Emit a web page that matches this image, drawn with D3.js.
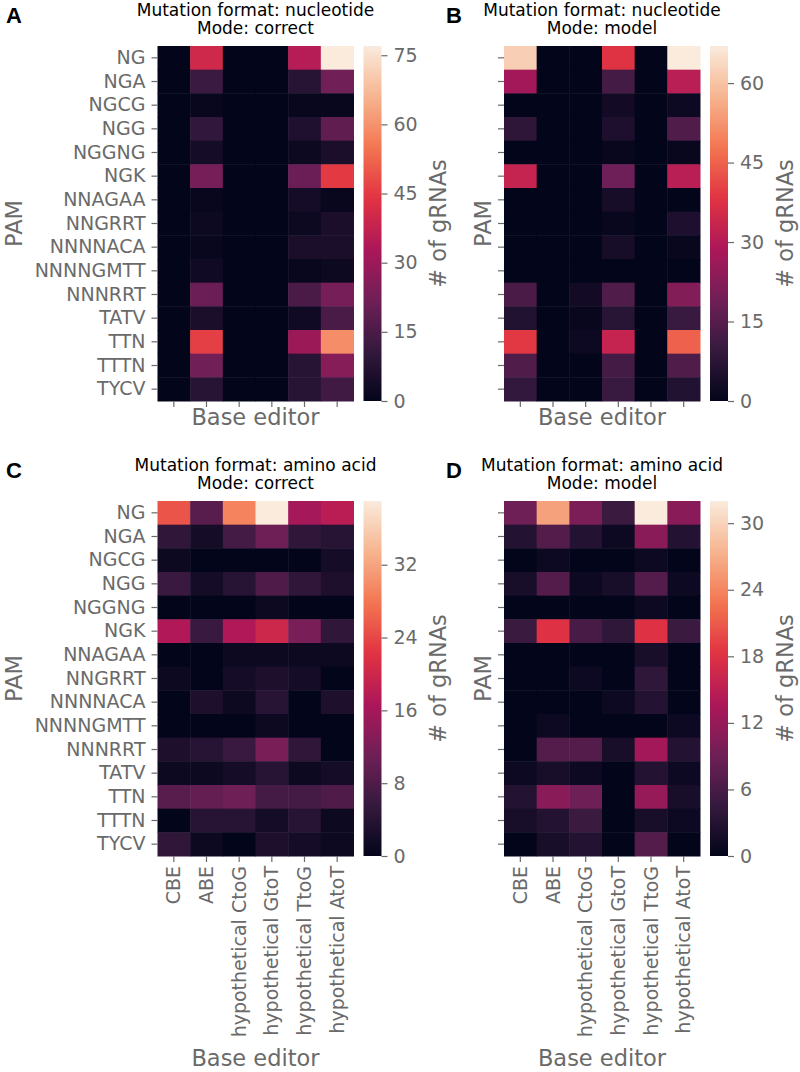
<!DOCTYPE html>
<html>
<head>
<meta charset="utf-8">
<script src="https://cdn.jsdelivr.net/npm/d3@7"></script>
<style>
  html, body { margin: 0; padding: 0; background: #fff; }
  svg { display: block; font-family: "DejaVu Sans", sans-serif; }
</style>
</head>
<body>
<svg id="chart" width="800" height="1072"></svg>
<script>
// ---------- data ----------
const pams = ["NG","NGA","NGCG","NGG","NGGNG","NGK","NNAGAA","NNGRRT","NNNNACA","NNNNGMTT","NNNRRT","TATV","TTN","TTTN","TYCV"];
const editors = ["CBE","ABE","hypothetical CtoG","hypothetical GtoT","hypothetical TtoG","hypothetical AtoT"];

// rows follow pams, columns follow editors
const valuesA = [
  [0,40,0,0,35,77],
  [0,12,0,0,8,22],
  [0,1,0,0,1,1],
  [0,10,0,0,6,19],
  [0,4,0,0,2,5],
  [0,23,0,0,21,45],
  [0,1,0,0,4,1],
  [0,2,0,0,2,5],
  [0,1,0,0,5,5],
  [0,3,0,0,1,2],
  [0,21,0,0,15,23],
  [0,5,0,0,3,15],
  [0,46,0,0,30,59],
  [0,22,0,0,8,26],
  [0,8,0,0,8,13]
];
const valuesB = [
  [62,0,0,38,0,67],
  [27,0,0,12,0,31],
  [0,0,0,3,0,2],
  [8,0,0,5,0,14],
  [0,0,0,1,0,1],
  [33,0,0,19,0,31],
  [0,0,0,4,0,0],
  [0,0,0,1,0,5],
  [0,0,0,4,0,1],
  [0,0,0,0,0,0],
  [13,0,3,14,0,22],
  [6,0,1,7,0,10],
  [39,0,2,33,0,45],
  [14,0,0,12,0,14],
  [9,0,0,10,0,6]
];
const valuesC = [
  [25,9,29,39,16,18],
  [5,2,7,11,5,4],
  [1,0,0,0,0,2],
  [6,2,4,8,5,3],
  [0,0,0,1,0,0],
  [17,6,17,20,12,5],
  [0,0,1,1,1,1],
  [1,0,2,3,2,0],
  [0,3,1,4,0,3],
  [0,0,0,1,0,0],
  [3,4,6,12,5,0],
  [1,1,2,4,1,2],
  [9,10,11,7,7,8],
  [0,4,4,2,4,1],
  [5,1,0,3,2,1]
];
const valuesD = [
  [9,26,10,5,32,11],
  [3,7,3,1,11,3],
  [0,1,0,0,1,0],
  [2,7,1,2,7,1],
  [0,0,0,0,1,0],
  [5,18,6,4,18,5],
  [0,0,0,0,2,0],
  [0,0,1,0,4,0],
  [0,0,0,1,3,0],
  [0,1,0,0,0,1],
  [0,7,7,2,13,3],
  [1,2,1,0,3,1],
  [3,11,9,0,12,2],
  [2,3,5,0,2,1],
  [0,2,3,0,7,0]
];
const ticksA = [0,15,30,45,60,75];
const ticksB = [0,15,30,45,60];
const ticksC = [0,8,16,24,32];
const ticksD = [0,6,12,18,24,30];
const titlesTop = ["Mutation format: nucleotide","Mutation format: nucleotide","Mutation format: amino acid","Mutation format: amino acid"];
const titlesMode = ["Mode: correct","Mode: model","Mode: correct","Mode: model"];
const letters = ["A","B","C","D"];

// rocket colormap (seaborn) stops
const rocketStops = ["#03051a","#35193e","#701f57","#ad1759","#e13342","#f37651","#f6b48f","#faebdd"];
const rocket = d3.piecewise(d3.interpolateRgb, rocketStops);

// ---------- layout ----------
const gray = "#6a6a6a";
const panels = [
  {values: valuesA, ticks: ticksA, x0: 157.5, y0: 46, showY: true,  showX: false},
  {values: valuesB, ticks: ticksB, x0: 504,   y0: 46, showY: false, showX: false},
  {values: valuesC, ticks: ticksC, x0: 157.5, y0: 501, showY: true,  showX: true},
  {values: valuesD, ticks: ticksD, x0: 504,   y0: 501, showY: false, showX: true}
];
const W = 196, H = 355, cbGap = 10, cbW = 18;

const svg = d3.select("#chart");
const defs = svg.append("defs");

panels.forEach((p, i) => {
  const g = svg.append("g");
  const vmax = d3.max(p.values.flat());
  const color = d3.scaleSequential(rocket).domain([0, vmax]);
  const x = d3.scaleBand().domain(editors).range([p.x0, p.x0 + W]);
  const y = d3.scaleBand().domain(pams).range([p.y0, p.y0 + H]);

  // cells
  const cells = [];
  p.values.forEach((row, r) => row.forEach((v, c) => cells.push({pam: pams[r], ed: editors[c], v})));
  g.selectAll("rect.cell").data(cells).join("rect")
    .attr("class", "cell")
    .attr("x", d => x(d.ed))
    .attr("y", d => y(d.pam))
    .attr("width", x.bandwidth() + 0.5)
    .attr("height", y.bandwidth() + 0.5)
    .attr("fill", d => color(d.v));

  // y axis
  const yAxis = g.append("g").attr("transform", `translate(${p.x0},0)`)
    .call(d3.axisLeft(y).tickSize(6).tickPadding(6).tickFormat(p.showY ? (d => d) : () => ""));
  yAxis.select(".domain").remove();
  yAxis.selectAll("line").attr("stroke", gray).attr("stroke-width", 1.2);
  yAxis.selectAll("text").attr("fill", gray).style("font-size", "19px").style("font-family", "DejaVu Sans");

  // x axis
  const xAxis = g.append("g").attr("transform", `translate(0,${p.y0 + H})`)
    .call(d3.axisBottom(x).tickSize(6).tickPadding(6).tickFormat(p.showX ? (d => d) : () => ""));
  xAxis.select(".domain").remove();
  xAxis.selectAll("line").attr("stroke", gray).attr("stroke-width", 1.2);
  xAxis.selectAll("text")
    .attr("fill", gray).style("font-size", "19px").style("font-family", "DejaVu Sans")
    .attr("transform", "rotate(-90)")
    .attr("text-anchor", "end")
    .attr("x", -10).attr("y", 0).attr("dy", "0.35em");

  // axis labels
  g.append("text")
    .attr("transform", `translate(${p.showY ? 14 : 483},${p.y0 + H / 2}) rotate(-90)`)
    .attr("text-anchor", "middle").attr("dy", "0.35em")
    .attr("fill", gray).style("font-size", "22.5px")
    .text("PAM");
  g.append("text")
    .attr("x", p.x0 + W / 2)
    .attr("y", p.showX ? 1066 : p.y0 + H + 24)
    .attr("text-anchor", "middle")
    .attr("fill", gray).style("font-size", "22.5px")
    .text("Base editor");

  // titles
  g.append("text").attr("x", p.x0 + W / 2).attr("y", p.y0 - 30)
    .attr("text-anchor", "middle").attr("fill", "#000").style("font-size", "17px")
    .text(titlesTop[i]);
  g.append("text").attr("x", p.x0 + W / 2).attr("y", p.y0 - 12)
    .attr("text-anchor", "middle").attr("fill", "#000").style("font-size", "17px")
    .text(titlesMode[i]);

  // panel letter
  g.append("text")
    .attr("x", p.showY ? 6 : 446)
    .attr("y", p.y0 - 23)
    .attr("fill", "#000")
    .style("font-family", "'Liberation Sans', Arial, sans-serif")
    .style("font-weight", "bold").style("font-size", "22px")
    .text(letters[i]);

  // colorbar
  const cbX = p.x0 + W + cbGap;
  const gradId = "grad" + i;
  const grad = defs.append("linearGradient").attr("id", gradId)
    .attr("x1", 0).attr("y1", 1).attr("x2", 0).attr("y2", 0);
  d3.range(0, 1.0001, 0.02).forEach(t => {
    grad.append("stop").attr("offset", t).attr("stop-color", rocket(t));
  });
  g.append("rect").attr("x", cbX).attr("y", p.y0).attr("width", cbW).attr("height", H)
    .attr("fill", `url(#${gradId})`);
  const cbScale = d3.scaleLinear().domain([0, vmax]).range([p.y0 + H, p.y0]);
  const cbAxis = g.append("g").attr("transform", `translate(${cbX + cbW},0)`)
    .call(d3.axisRight(cbScale).tickValues(p.ticks).tickSize(6).tickPadding(6));
  cbAxis.select(".domain").remove();
  cbAxis.selectAll("line").attr("stroke", gray).attr("stroke-width", 1.2);
  cbAxis.selectAll("text").attr("fill", gray).style("font-size", "19px").style("font-family", "DejaVu Sans");

  g.append("text")
    .attr("transform", `translate(${cbX + cbW + 57},${p.y0 + H / 2}) rotate(-90)`)
    .attr("text-anchor", "middle").attr("dy", "0.35em")
    .attr("fill", gray).style("font-size", "22.5px")
    .text("# of gRNAs");
});
</script>
</body>
</html>
